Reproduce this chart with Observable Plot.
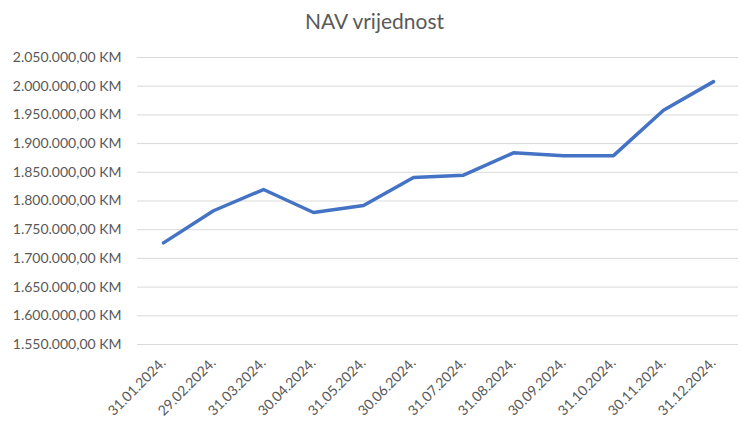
<!DOCTYPE html>
<html>
<head>
<meta charset="utf-8">
<script src="https://cdn.jsdelivr.net/npm/d3@7"></script>
<script src="https://cdn.jsdelivr.net/npm/@observablehq/plot@0.6"></script>
<style>
  html, body { margin: 0; padding: 0; background: #ffffff; }
  #wrap { width: 741px; height: 430px; overflow: hidden; }
  #title { height: 40px; line-height: 42px; text-align: center; font-family: Lato, "Open Sans", sans-serif; font-size: 21px; color: #595959; padding-left: 8px; }
</style>
</head>
<body>
<div id="wrap">
  <div id="title">NAV vrijednost</div>
  <div id="chart"></div>
</div>
<script>
const dates = ["31.01.2024.", "29.02.2024.", "31.03.2024.", "30.04.2024.", "31.05.2024.", "30.06.2024.",
               "31.07.2024.", "31.08.2024.", "30.09.2024.", "31.10.2024.", "30.11.2024.", "31.12.2024."];
const nav = [1727000, 1783000, 1820000, 1780000, 1792000, 1841000,
             1845000, 1884000, 1879000, 1879000, 1958000, 2008000];
const yTicks = [1550000, 1600000, 1650000, 1700000, 1750000, 1800000,
                1850000, 1900000, 1950000, 2000000, 2050000];

const data = dates.map((d, i) => ({date: d, nav: nav[i]}));
const loc = d3.formatLocale({decimal: ",", thousands: ".", grouping: [3], currency: ["", ""]});
const f = loc.format(",.2f");
const fmt = d => f(d) + " KM";

const chart = Plot.plot({
  width: 741,
  height: 390,
  marginTop: 17,
  marginBottom: 86,
  marginLeft: 137,
  marginRight: 3,
  style: {fontFamily: "Lato, 'Open Sans', sans-serif", fontSize: "14px", color: "#595959", background: "#ffffff"},
  x: {type: "point", domain: dates, padding: 0.5, label: null, axis: null},
  y: {domain: [1550000, 2050000], label: null, axis: null},
  marks: [
    Plot.gridY(yTicks, {stroke: "#d9d9d9", strokeOpacity: 1, strokeWidth: 1}),
    Plot.axisY(yTicks, {tickFormat: fmt, tickSize: 0, tickPadding: 16, label: null, fontSize: 14, fill: "#595959"}),
    Plot.axisX(dates, {tickRotate: -45, tickSize: 0, tickPadding: 16, label: null, fontSize: 14, fill: "#595959"}),
    Plot.lineY(data, {x: "date", y: "nav", stroke: "#4472c4", strokeWidth: 3.5, strokeLinejoin: "round", strokeLinecap: "round"})
  ]
});
document.getElementById("chart").appendChild(chart);
</script>
</body>
</html>
